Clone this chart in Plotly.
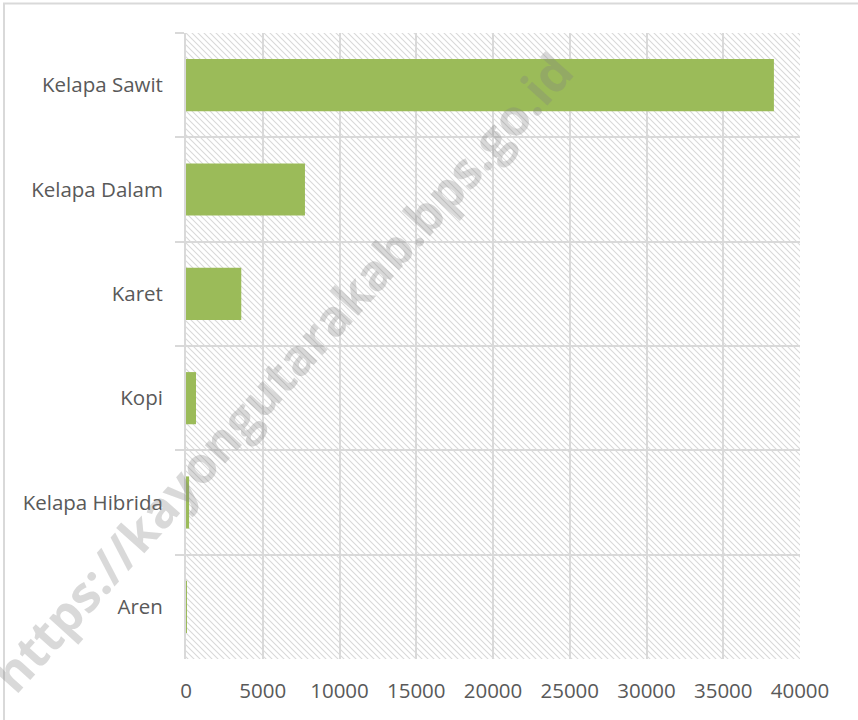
import base64
import plotly.graph_objects as go

categories = ["Kelapa Sawit", "Kelapa Dalam", "Karet", "Kopi", "Kelapa Hibrida", "Aren"]
values = [38300, 7750, 3600, 650, 200, 10]
x_ticks = [0, 5000, 10000, 15000, 20000, 25000, 30000, 35000, 40000]
x_max = 40000

W, H = 858, 720
L, R, T, B = 186, 58, 33, 61
PW, PH = W - L - R, H - T - B

# hatched plot-area background (Excel style downward diagonal)
S = 6
svg = (
    f'<svg xmlns="http://www.w3.org/2000/svg" width="{PW}" height="{PH}" viewBox="0 0 {PW} {PH}">'
    f'<defs><pattern id="p" patternUnits="userSpaceOnUse" width="{S}" height="{S}">'
    f'<path d="M-1,-1 L{S+1},{S+1} M-1,{S-1} L1,{S+1} M{S-1},-1 L{S+1},1" '
    'stroke="#d9d9d9" stroke-width="1.1"/>'
    '</pattern></defs>'
    f'<rect width="{PW}" height="{PH}" fill="white"/>'
    f'<rect width="{PW}" height="{PH}" fill="url(#p)"/></svg>'
)
hatch_src = "data:image/svg+xml;base64," + base64.b64encode(svg.encode()).decode()

fig = go.Figure()
fig.add_trace(go.Bar(
    y=categories, x=values, orientation="h", width=0.5,
    marker=dict(color="#9bbb59", line=dict(width=0)),
    showlegend=False,
))

fig.update_layout(
    width=W, height=H,
    margin=dict(l=L, r=R, t=T, b=B),
    paper_bgcolor="white", plot_bgcolor="rgba(0,0,0,0)",
    font=dict(family="Open Sans", size=20.5, color="#595959"),
    xaxis=dict(range=[0, x_max], tickvals=x_ticks, tickformat="d", showgrid=True,
               gridcolor="#d9d9d9", gridwidth=2, zeroline=False,
               showline=False, ticks="", ticklabelstandoff=17),
    yaxis=dict(autorange="reversed", tickson="boundaries", showgrid=True,
               gridcolor="#d9d9d9", gridwidth=2, ticks="outside", ticklen=9,
               tickcolor="#d9d9d9", tickwidth=2, showline=True,
               linecolor="#d9d9d9", linewidth=2, ticklabelstandoff=17),
    images=[dict(source=hatch_src, xref="paper", yref="paper", x=0, y=1,
                 sizex=1, sizey=1, xanchor="left", yanchor="top",
                 sizing="stretch", layer="below")],
    shapes=[dict(type="rect", xref="paper", yref="paper",
                 x0=(4 - L) / PW, x1=(W + 10 - L) / PW,
                 y0=-(B + 10) / PH, y1=(PH + T - 3.5) / PH,
                 line=dict(color="#d9d9d9", width=2))],
    annotations=[dict(text="<b>https://kayongutarakab.bps.go.id</b>",
                      x=(282 - L) / PW, y=(H - B - 372) / PH,
                      xanchor="center", yanchor="middle",
                      xref="paper", yref="paper", showarrow=False, textangle=-48,
                      font=dict(size=50, color="rgba(128,128,128,0.30)",
                                family="Open Sans"))],
)

fig.write_html("out.html", config={"displayModeBar": False},
               post_script="document.body.style.margin='0';")
